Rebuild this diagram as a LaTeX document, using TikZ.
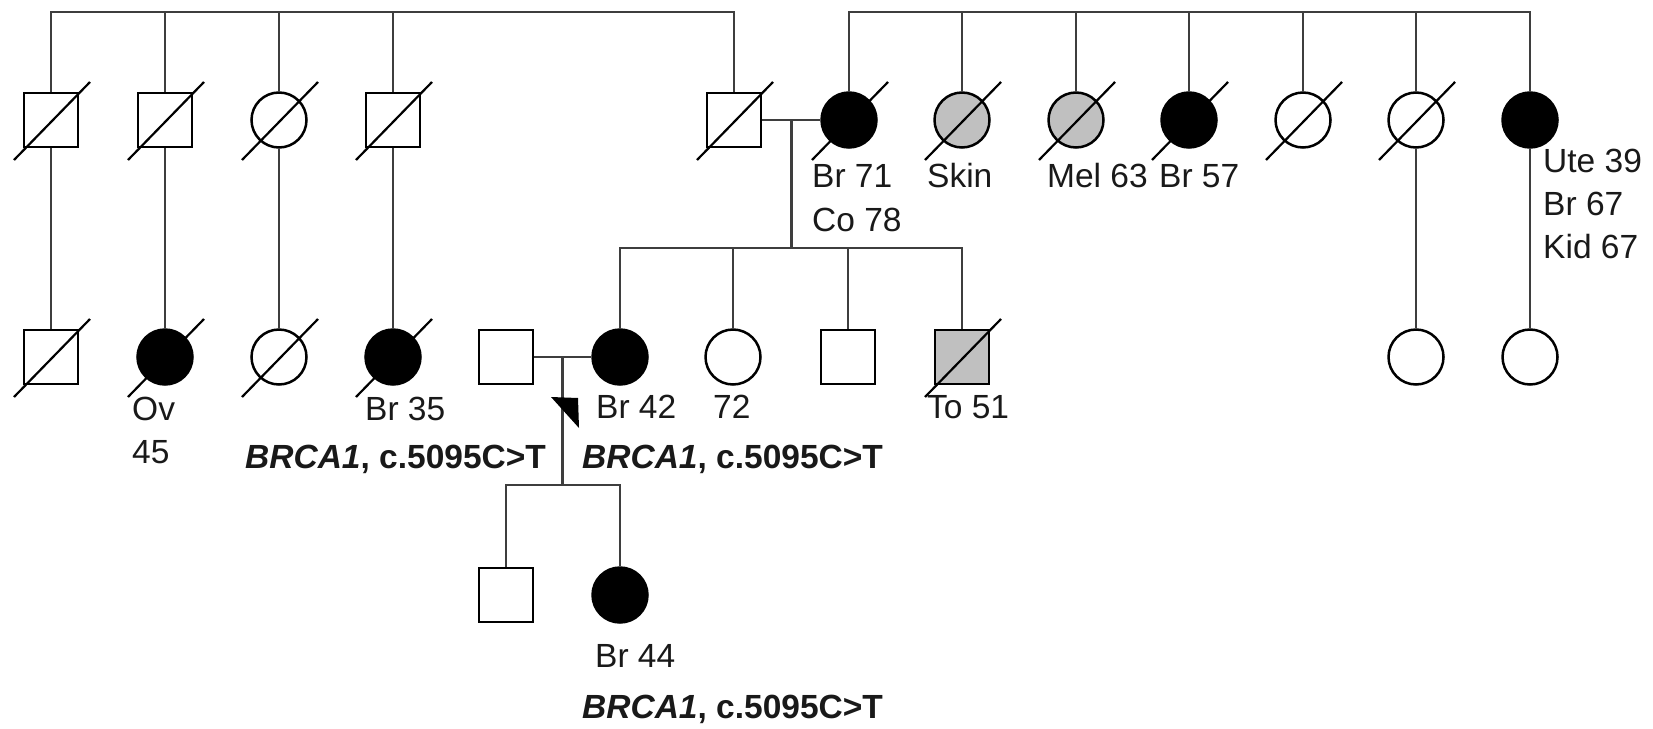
\documentclass[tikz,border=0pt]{standalone}
\usepackage{fontspec}
\setmainfont{Liberation Sans}
\usetikzlibrary{calc}
\definecolor{partgray}{RGB}{192,192,192}
\definecolor{conngray}{RGB}{62,62,62}
\definecolor{textdark}{RGB}{25,25,25}
\begin{document}
\begin{tikzpicture}[x=1pt,y=-1pt,
  sym/.style={draw=black,line width=2.5pt,fill=white,inner sep=0pt,minimum size=54pt},
  male/.style={sym,rectangle},
  female/.style={sym,circle,minimum size=55pt},
  aff/.style={fill=black},
  part/.style={fill=partgray},
  conn/.style={draw=conngray,line width=2.9pt},
  slash/.style={draw=black,line width=2.2pt},
  lbl/.style={anchor=base west,inner sep=0pt,font=\fontsize{33.5}{40}\selectfont,text=textdark},
  gene/.style={anchor=base west,inner sep=0pt,font=\fontsize{33.5}{40}\selectfont\bfseries,text=textdark}]
\useasboundingbox (0,0) rectangle (1653,728);
\newcommand{\deceasedmark}[1]{\draw[slash] ($(#1)+(-37,40)$) -- ($(#1)+(39,-38)$);}
% generation I
\node[male] (a1) at (51,120) {};
\node[male] (a2) at (165,120) {};
\node[female] (a3) at (279,120) {};
\node[male] (a4) at (393,120) {};
\node[male] (a5) at (734,120) {};
\node[female,aff] (a6) at (849,120) {};
\node[female,part] (a7) at (962,120) {};
\node[female,part] (a8) at (1076,120) {};
\node[female,aff] (a9) at (1189,120) {};
\node[female] (a10) at (1303,120) {};
\node[female] (a11) at (1416,120) {};
\node[female,aff] (a12) at (1530,120) {};
% generation II
\node[male] (b1) at (51,357) {};
\node[female,aff] (b2) at (165,357) {};
\node[female] (b3) at (279,357) {};
\node[female,aff] (b4) at (393,357) {};
\node[male] (b5) at (506,357) {};
\node[female,aff] (b6) at (620,357) {};
\node[female] (b7) at (733,357) {};
\node[male] (b8) at (848,357) {};
\node[male,part] (b9) at (962,357) {};
\node[female] (b10) at (1416,357) {};
\node[female] (b11) at (1530,357) {};
% generation III
\node[male] (c1) at (506,595) {};
\node[female,aff] (c2) at (620,595) {};
% sibship coordinates
\coordinate (sL) at (51,12);
\coordinate (sR) at (849,12);
\coordinate (m1) at ($(a5.east)!0.5!(a6.west)$);
\coordinate (s2) at (792,248);
\coordinate (m2) at ($(b5.east)!0.5!(b6.west)$);
\coordinate (s3) at (563,485);
% top sibships
\draw[conn] (a1.north) -- (a1.north |- sL) -- (a5.north |- sL) -- (a5.north);
\foreach \n in {a2,a3,a4} {\draw[conn] (\n.north) -- (\n.north |- sL);}
\draw[conn] (a6.north) -- (a6.north |- sR) -- (a12.north |- sR) -- (a12.north);
\foreach \n in {a7,a8,a9,a10,a11} {\draw[conn] (\n.north) -- (\n.north |- sR);}
% lines from generation I to II
\draw[conn] (a1.south) -- (b1.north);
\draw[conn] (a2.south) -- (b2.north);
\draw[conn] (a3.south) -- (b3.north);
\draw[conn] (a4.south) -- (b4.north);
\draw[conn] (a11.south) -- (b10.north);
\draw[conn] (a12.south) -- (b11.north);
% marriage I
\draw[conn] (a5.east) -- (a6.west);
\draw[conn] (m1) -- (m1 |- s2);
\draw[conn] (b6.north) -- (b6.north |- s2) -- (b9.north |- s2) -- (b9.north);
\draw[conn] (b7.north) -- (b7.north |- s2);
\draw[conn] (b8.north) -- (b8.north |- s2);
% marriage II
\draw[conn] (b5.east) -- (b6.west);
\draw[conn] (m2) -- (m2 |- s3);
\draw[conn] (c1.north) -- (c1.north |- s3) -- (c2.north |- s3) -- (c2.north);
% proband arrow
\fill[black] (551,397) -- (578,398) -- (579,428) -- cycle;
% deceased marks
\foreach \n in {a1,a2,a3,a4,a5,a6,a7,a8,a9,a10,a11,b1,b2,b3,b4,b9} {\deceasedmark{\n}}
% labels
\node[lbl] (l1) at (812,187) {Br 71};
\node[lbl] (l2) at (812,231) {Co 78};
\node[lbl] (l3) at (927,187) {Skin};
\node[lbl] (l4) at (1047,187) {Mel 63};
\node[lbl] (l5) at (1159,187) {Br 57};
\node[lbl] (l6) at (1543,172) {Ute 39};
\node[lbl] (l7) at (1543,215) {Br 67};
\node[lbl] (l8) at (1543,258) {Kid 67};
\node[lbl] (l9) at (132,420) {Ov};
\node[lbl] (l10) at (132,463) {45};
\node[lbl] (l11) at (365,420) {Br 35};
\node[lbl] (l12) at (596,418) {Br 42};
\node[lbl] (l13) at (713,418) {72};
\node[lbl] (l14) at (927,418) {To 51};
\node[lbl] (l15) at (595,667) {Br 44};
\node[gene] (g1) at (245,468) {\textit{BRCA1}, c.5095C>T};
\node[gene] (g2) at (582,468) {\textit{BRCA1}, c.5095C>T};
\node[gene] (g3) at (582,718) {\textit{BRCA1}, c.5095C>T};
\end{tikzpicture}
\end{document}
